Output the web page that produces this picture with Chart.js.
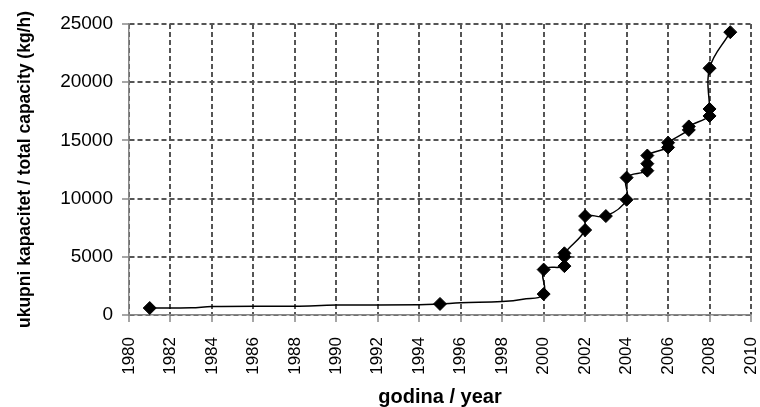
<!DOCTYPE html>
<html>
<head>
<meta charset="utf-8">
<script src="https://cdn.jsdelivr.net/npm/chart.js@4.4.1/dist/chart.umd.min.js"></script>
<style>
  html, body { margin: 0; padding: 0; background: #fff; }
  #wrap { width: 760px; height: 407px; }
</style>
</head>
<body>
<div id="wrap"><canvas id="grafikon" width="760" height="407"></canvas></div>
<script>
// godine i kapaciteti s markerima
const godine = [1981, 1995, 2000, 2000, 2001, 2001, 2001, 2002, 2002, 2003, 2004, 2004,
                2005, 2005, 2005, 2006, 2006, 2007, 2007, 2008, 2008, 2008, 2009];
const kapacitet = [600, 950, 1800, 3900, 4200, 5000, 5300, 7300, 8500, 8500, 9900, 11800,
                   12400, 13000, 13700, 14400, 14800, 15900, 16200, 17100, 17700, 21200, 24300];

// zagladjena linija (ukljucuje i godine bez markera)
const linijaGodine = [1981, 1983, 1984, 1988, 1990, 1994, 1995, 1996, 1998, 1999, 2000, 2000,
                      2001, 2001, 2001, 2002, 2002, 2003, 2004, 2004, 2005, 2005, 2005,
                      2006, 2006, 2007, 2007, 2008, 2008, 2008, 2009];
const linijaKapacitet = [600, 620, 720, 760, 850, 880, 950, 1050, 1150, 1350, 1800, 3900,
                         4200, 5000, 5300, 7300, 8500, 8500, 9900, 11800, 12400, 13000, 13700,
                         14400, 14800, 15900, 16200, 17100, 17700, 21200, 24300];

const xOznake = [1980, 1982, 1984, 1986, 1988, 1990, 1992, 1994, 1996, 1998, 2000, 2002, 2004, 2006, 2008, 2010];
const yOznake = [0, 5000, 10000, 15000, 20000, 25000];

const mreza = {
    color: '#555',
    lineWidth: 2,
    drawTicks: true,
    tickLength: 7,
    tickColor: '#888',
    tickWidth: 1.5,
    tickBorderDash: []
};
const rub = { display: true, color: '#888', width: 1.5, dash: [5, 3] };

const ctx = document.getElementById('grafikon').getContext('2d');
new Chart(ctx, {
    type: 'scatter',
    data: {
        datasets: [{
            label: 'markeri',
            data: godine.map((g, i) => ({ x: g, y: kapacitet[i] })),
            showLine: false,
            pointStyle: 'rectRot',
            pointRadius: 6.5,
            pointBackgroundColor: '#000',
            pointBorderColor: '#000',
            pointBorderWidth: 1
        }, {
            label: 'linija',
            data: linijaGodine.map((g, i) => ({ x: g, y: linijaKapacitet[i] })),
            showLine: true,
            tension: 0.4,
            borderColor: '#000',
            borderWidth: 1.5,
            pointRadius: 0
        }]
    },
    options: {
        responsive: false,
        animation: false,
        layout: { padding: { top: 24, right: 9, left: 0, bottom: 0 } },
        plugins: { legend: { display: false }, tooltip: { enabled: false } },
        scales: {
            x: {
                type: 'linear',
                min: 1980,
                max: 2010,
                afterBuildTicks: s => { s.ticks = xOznake.map(v => ({ value: v })); },
                afterFit: s => { s.height = 92; s.paddingLeft = 0; s.paddingRight = 0; },
                grid: mreza,
                border: rub,
                ticks: {
                    color: '#000',
                    font: { family: 'Liberation Sans, Arial, sans-serif', size: 17 },
                    minRotation: 90,
                    maxRotation: 90,
                    padding: 15,
                    callback: v => String(v)
                },
                title: {
                    display: true,
                    text: 'godina / year',
                    color: '#000',
                    font: { family: 'Liberation Sans, Arial, sans-serif', size: 20, weight: 'bold' },
                    padding: { top: 0, bottom: -2 }
                }
            },
            y: {
                min: 0,
                max: 25000,
                afterBuildTicks: s => { s.ticks = yOznake.map(v => ({ value: v })); },
                afterFit: s => { s.width = 129; },
                grid: mreza,
                border: rub,
                ticks: {
                    color: '#000',
                    font: { family: 'Liberation Sans, Arial, sans-serif', size: 19 },
                    padding: 9,
                    callback: v => String(v)
                },
                title: {
                    display: true,
                    text: 'ukupni kapacitet / total capacity (kg/h)',
                    color: '#000',
                    font: { family: 'Liberation Sans, Arial, sans-serif', size: 17.5, weight: 'bold' },
                    padding: { top: 15, bottom: 0 }
                }
            }
        }
    }
});
</script>
</body>
</html>
